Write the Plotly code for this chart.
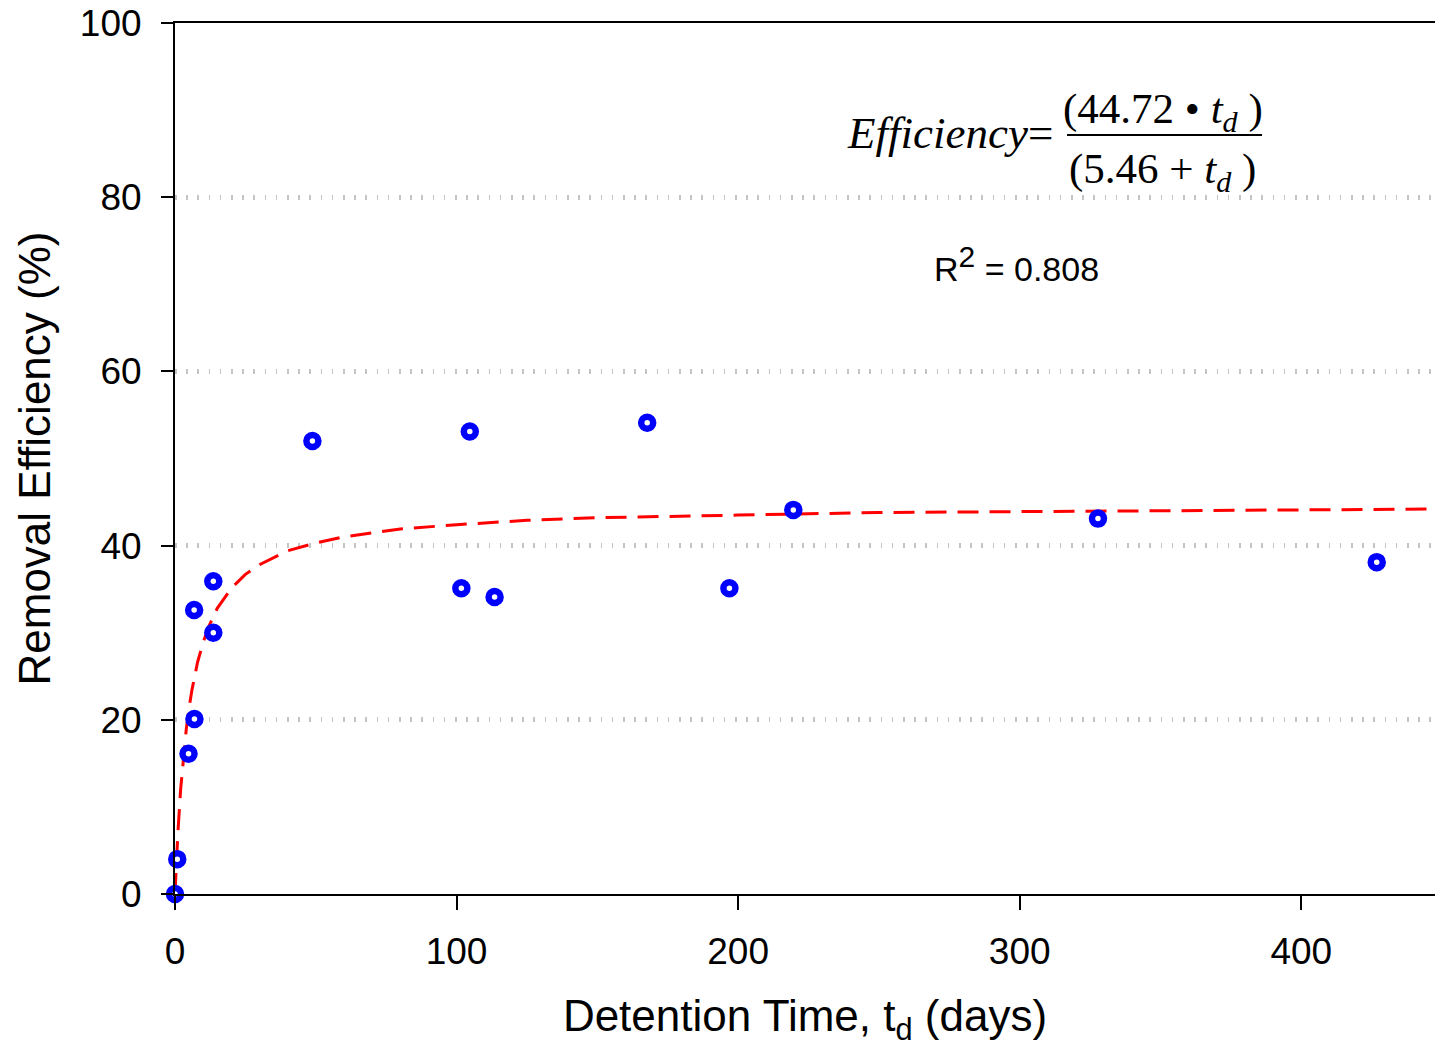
import plotly.graph_objects as go

det_time = [0, 0.8, 4.8, 6.9, 6.8, 13.6, 13.6, 48.8, 101.7, 104.7, 113.5, 167.7, 196.9, 219.6, 327.8, 426.8]
removal = [0, 4.0, 16.1, 20.1, 32.6, 35.9, 30.0, 52.0, 35.1, 53.1, 34.1, 54.1, 35.1, 44.1, 43.1, 38.1]

# Fitted curve as drawn
fit_t = [0, 0.5, 1, 2, 3, 4, 5, 6, 8, 10, 12, 15, 20, 25, 30, 40, 50, 60, 80, 100, 125, 150,
         200, 250, 300, 350, 400, 450]
fit_eff = [0, 3.8, 6.9, 12.0, 15.9, 18.9, 21.4, 23.4, 26.6, 28.9, 30.7, 32.8, 35.1, 36.7, 37.8,
           39.4, 40.3, 41.0, 41.9, 42.4, 42.9, 43.2, 43.5, 43.8, 43.9, 44.0, 44.1, 44.2]

x_ticks = [0, 100, 200, 300, 400]
y_ticks = [0, 20, 40, 60, 80, 100]

SANS = "Liberation Sans, Arial, sans-serif"
SERIF = "Liberation Serif, Times New Roman, serif"

fig = go.Figure()
fig.add_trace(go.Scatter(x=fit_t, y=fit_eff, mode="lines",
                         line=dict(color="#ff0000", width=3, dash="21px,11px"),
                         showlegend=False, hoverinfo="skip"))
fig.add_trace(go.Scatter(x=det_time, y=removal, mode="markers", cliponaxis=False,
                         marker=dict(symbol="circle", size=12, color="white",
                                     line=dict(color="#0000ff", width=6.5)),
                         showlegend=False))

W, H = 1435, 1047
L, R, T, B = 175, 0, 23, 153
XMAX = 447.5


def px_to_x(px):
    return (px - L) / (W - L - R) * XMAX


def py_to_y(py):
    return (H - B - py) / (H - B - T) * 100


fig.update_layout(
    width=W, height=H,
    margin=dict(l=L, r=R, t=T, b=B, pad=0),
    paper_bgcolor="white", plot_bgcolor="white",
    font=dict(family=SANS, color="black"),
    xaxis=dict(range=[0, XMAX], tickvals=x_ticks, ticktext=[str(v) for v in x_ticks],
               ticks="outside", ticklen=14, tickwidth=2, tickcolor="black",
               showline=True, linewidth=2, linecolor="black", mirror=True,
               showgrid=False, zeroline=False, ticklabelstandoff=10,
               tickfont=dict(size=37, family=SANS),
               title=dict(text="Detention Time, t<sub>d</sub> (days)",
                          font=dict(size=44, family=SANS), standoff=30)),
    yaxis=dict(range=[0, 100], tickvals=y_ticks, ticktext=[str(v) for v in y_ticks],
               ticks="outside", ticklen=12, tickwidth=2, tickcolor="black",
               showline=True, linewidth=2, linecolor="black",
               showgrid=True, gridcolor="#c4c4c4", gridwidth=5, griddash="1.5px,9.7px",
               zeroline=False, ticklabelstandoff=12,
               tickfont=dict(size=37, family=SANS),
               title=dict(text="Removal Efficiency (%)",
                          font=dict(size=44, family=SANS), standoff=15)),
)

# Equation annotation
fig.add_annotation(x=px_to_x(1055), y=py_to_y(133), xref="x", yref="y",
                   text="<i>Efficiency</i>=", showarrow=False,
                   xanchor="right", yanchor="middle",
                   font=dict(family=SERIF, size=45, color="black"))
fig.add_annotation(x=px_to_x(1163), y=py_to_y(112), xref="x", yref="y",
                   text="(44.72 • <i>t</i><sub><i>d</i></sub> )", showarrow=False,
                   xanchor="center", yanchor="middle",
                   font=dict(family=SERIF, size=43, color="black"))
fig.add_annotation(x=px_to_x(1162), y=py_to_y(172), xref="x", yref="y",
                   text="(5.46 + <i>t</i><sub><i>d</i></sub> )", showarrow=False,
                   xanchor="center", yanchor="middle",
                   font=dict(family=SERIF, size=43, color="black"))
fig.add_shape(type="line", xref="x", yref="y",
              x0=px_to_x(1067), x1=px_to_x(1262), y0=py_to_y(135), y1=py_to_y(135),
              line=dict(color="black", width=2))
fig.add_annotation(x=px_to_x(932), y=py_to_y(264), xref="x", yref="y",
                   text="R<sup><span style='font-size:30px'>2</span></sup> = 0.808", showarrow=False,
                   xanchor="left", yanchor="middle",
                   font=dict(family=SANS, size=34, color="black"))

fig.write_html("out.html")
